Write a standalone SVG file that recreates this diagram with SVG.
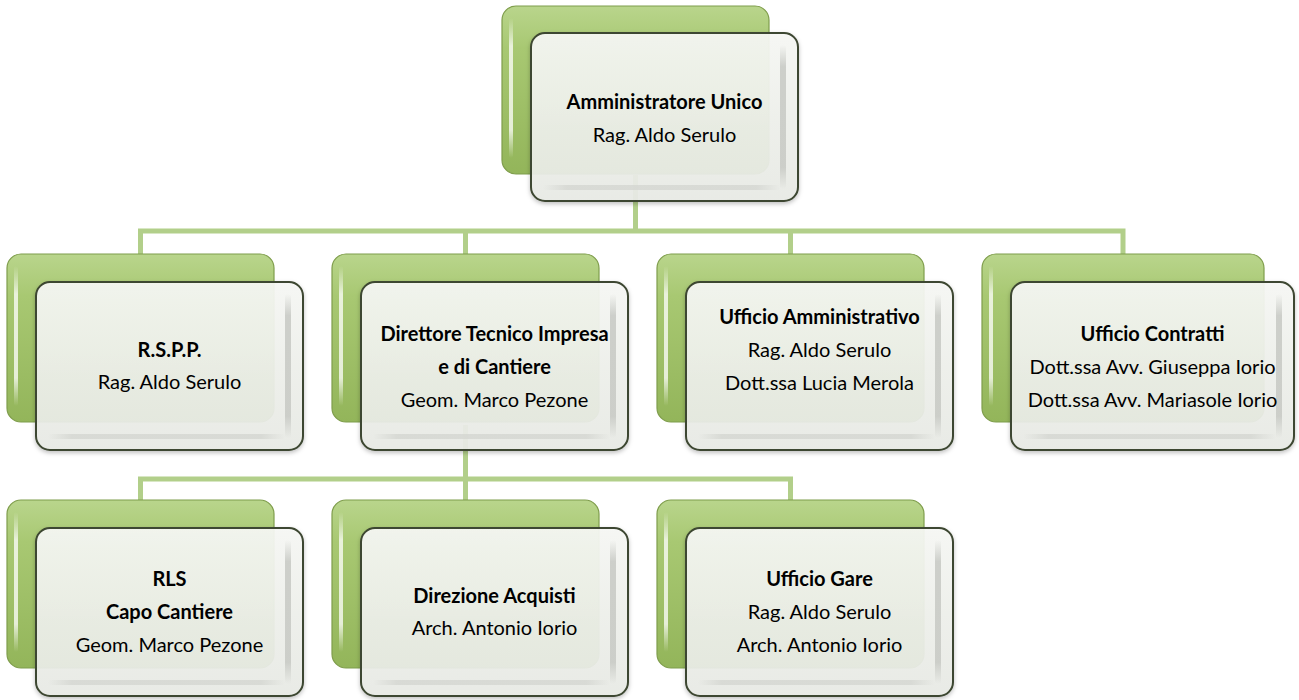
<svg xmlns="http://www.w3.org/2000/svg" width="1299" height="700" viewBox="0 0 1299 700">
<defs>
  <linearGradient id="gBack" x1="0" y1="0" x2="0" y2="1">
    <stop offset="0" stop-color="#b9d58c"/>
    <stop offset="0.25" stop-color="#a8c872"/>
    <stop offset="1" stop-color="#93b55a"/>
  </linearGradient>
  <linearGradient id="gFront" x1="0" y1="0" x2="0" y2="1">
    <stop offset="0" stop-color="#f7f8f5"/>
    <stop offset="0.5" stop-color="#eff1ec"/>
    <stop offset="1" stop-color="#e9ebe6"/>
  </linearGradient>
  <linearGradient id="gHiV" x1="0" y1="0" x2="0" y2="1">
    <stop offset="0" stop-color="#ffffff" stop-opacity="0"/>
    <stop offset="0.2" stop-color="#ffffff" stop-opacity="0.75"/>
    <stop offset="0.8" stop-color="#ffffff" stop-opacity="0.75"/>
    <stop offset="1" stop-color="#ffffff" stop-opacity="0"/>
  </linearGradient>
  <linearGradient id="gShV" x1="0" y1="0" x2="0" y2="1">
    <stop offset="0" stop-color="#c9cbc6" stop-opacity="0"/>
    <stop offset="0.15" stop-color="#c9cbc6" stop-opacity="0.9"/>
    <stop offset="0.85" stop-color="#c9cbc6" stop-opacity="0.9"/>
    <stop offset="1" stop-color="#c9cbc6" stop-opacity="0"/>
  </linearGradient>
  <linearGradient id="gShH" x1="0" y1="0" x2="1" y2="0">
    <stop offset="0" stop-color="#d4d6d1" stop-opacity="0"/>
    <stop offset="0.1" stop-color="#d4d6d1" stop-opacity="0.8"/>
    <stop offset="0.9" stop-color="#d4d6d1" stop-opacity="0.8"/>
    <stop offset="1" stop-color="#d4d6d1" stop-opacity="0"/>
  </linearGradient>
  <filter id="sh" x="-10%" y="-10%" width="120%" height="130%">
    <feDropShadow dx="0" dy="2" stdDeviation="2" flood-color="#000" flood-opacity="0.25"/>
  </filter>
</defs>
<style>
  .back{fill:url(#gBack);stroke:#7f9d4c;stroke-width:1.2}
  .bhi{fill:url(#gHiV)}
  .front{fill:url(#gFront);fill-opacity:0.93;stroke:#3c4630;stroke-width:2;filter:url(#sh)}
  .fsv{fill:url(#gShV)}
  .fsh{fill:url(#gShH)}
  .conn{fill:none;stroke:#b2cf8a;stroke-width:5}
  text{font-family:Lato,"Open Sans","Liberation Sans",sans-serif;font-size:20px;fill:#000;text-anchor:middle}
  .b{font-weight:bold}
</style>

<g id="connectors">
  <path class="conn" d="M635.5 175 V231"/>
  <path class="conn" d="M140.5 254 V231 H1123 V254"/>
  <path class="conn" d="M465.5 231 V254 M790.5 231 V254"/>
  <path class="conn" d="M465.5 425 V479"/>
  <path class="conn" d="M140.5 500 V479 H790.5 V500"/>
  <path class="conn" d="M465.5 479 V500"/>
</g>

<g id="node-amministratore">
  <rect class="back" x="502" y="6" width="267" height="168" rx="14"/>
  <rect class="bhi" x="509" y="18" width="4" height="140" rx="2"/>
  <rect class="front" x="531" y="33" width="267" height="168" rx="14"/>
  <rect class="fsv" x="780" y="45" width="6" height="144" rx="3"/>
  <rect class="fsh" x="543" y="185" width="237" height="5" rx="2"/>
  <text class="b" x="664.5" y="109">Amministratore Unico</text>
  <text x="664.5" y="142">Rag. Aldo Serulo</text>
</g>

<g id="node-rspp">
  <rect class="back" x="7" y="254" width="267" height="168" rx="14"/>
  <rect class="bhi" x="14" y="266" width="4" height="140" rx="2"/>
  <rect class="front" x="36" y="282" width="267" height="168" rx="14"/>
  <rect class="fsv" x="285" y="294" width="6" height="144" rx="3"/>
  <rect class="fsh" x="48" y="434" width="237" height="5" rx="2"/>
  <text class="b" x="169.5" y="357">R.S.P.P.</text>
  <text x="169.5" y="389">Rag. Aldo Serulo</text>
</g>

<g id="node-direttore">
  <rect class="back" x="332" y="254" width="267" height="168" rx="14"/>
  <rect class="bhi" x="339" y="266" width="4" height="140" rx="2"/>
  <rect class="front" x="361" y="282" width="267" height="168" rx="14"/>
  <rect class="fsv" x="610" y="294" width="6" height="144" rx="3"/>
  <rect class="fsh" x="373" y="434" width="237" height="5" rx="2"/>
  <text class="b" x="494.5" y="341">Direttore Tecnico Impresa</text>
  <text class="b" x="494.5" y="374">e di Cantiere</text>
  <text x="494.5" y="407">Geom. Marco Pezone</text>
</g>

<g id="node-amministrativo">
  <rect class="back" x="657" y="254" width="267" height="168" rx="14"/>
  <rect class="bhi" x="664" y="266" width="4" height="140" rx="2"/>
  <rect class="front" x="686" y="282" width="267" height="168" rx="14"/>
  <rect class="fsv" x="935" y="294" width="6" height="144" rx="3"/>
  <rect class="fsh" x="698" y="434" width="237" height="5" rx="2"/>
  <text class="b" x="819.5" y="324">Ufficio Amministrativo</text>
  <text x="819.5" y="357">Rag. Aldo Serulo</text>
  <text x="819.5" y="390">Dott.ssa Lucia Merola</text>
</g>

<g id="node-contratti">
  <rect class="back" x="982" y="254" width="282" height="168" rx="14"/>
  <rect class="bhi" x="989" y="266" width="4" height="140" rx="2"/>
  <rect class="front" x="1011" y="282" width="283" height="168" rx="14"/>
  <rect class="fsv" x="1276" y="294" width="6" height="144" rx="3"/>
  <rect class="fsh" x="1023" y="434" width="253" height="5" rx="2"/>
  <text class="b" x="1152.5" y="341">Ufficio Contratti</text>
  <text x="1152.5" y="374">Dott.ssa Avv. Giuseppa Iorio</text>
  <text x="1152.5" y="407">Dott.ssa Avv. Mariasole Iorio</text>
</g>

<g id="node-rls">
  <rect class="back" x="7" y="500" width="267" height="168" rx="14"/>
  <rect class="bhi" x="14" y="512" width="4" height="140" rx="2"/>
  <rect class="front" x="36" y="528" width="267" height="168" rx="14"/>
  <rect class="fsv" x="285" y="540" width="6" height="144" rx="3"/>
  <rect class="fsh" x="48" y="680" width="237" height="5" rx="2"/>
  <text class="b" x="169.5" y="586">RLS</text>
  <text class="b" x="169.5" y="619">Capo Cantiere</text>
  <text x="169.5" y="652">Geom. Marco Pezone</text>
</g>

<g id="node-acquisti">
  <rect class="back" x="332" y="500" width="267" height="168" rx="14"/>
  <rect class="bhi" x="339" y="512" width="4" height="140" rx="2"/>
  <rect class="front" x="361" y="528" width="267" height="168" rx="14"/>
  <rect class="fsv" x="610" y="540" width="6" height="144" rx="3"/>
  <rect class="fsh" x="373" y="680" width="237" height="5" rx="2"/>
  <text class="b" x="494.5" y="603">Direzione Acquisti</text>
  <text x="494.5" y="635">Arch. Antonio Iorio</text>
</g>

<g id="node-gare">
  <rect class="back" x="657" y="500" width="267" height="168" rx="14"/>
  <rect class="bhi" x="664" y="512" width="4" height="140" rx="2"/>
  <rect class="front" x="686" y="528" width="267" height="168" rx="14"/>
  <rect class="fsv" x="935" y="540" width="6" height="144" rx="3"/>
  <rect class="fsh" x="698" y="680" width="237" height="5" rx="2"/>
  <text class="b" x="819.5" y="586">Ufficio Gare</text>
  <text x="819.5" y="619">Rag. Aldo Serulo</text>
  <text x="819.5" y="652">Arch. Antonio Iorio</text>
</g>
</svg>
